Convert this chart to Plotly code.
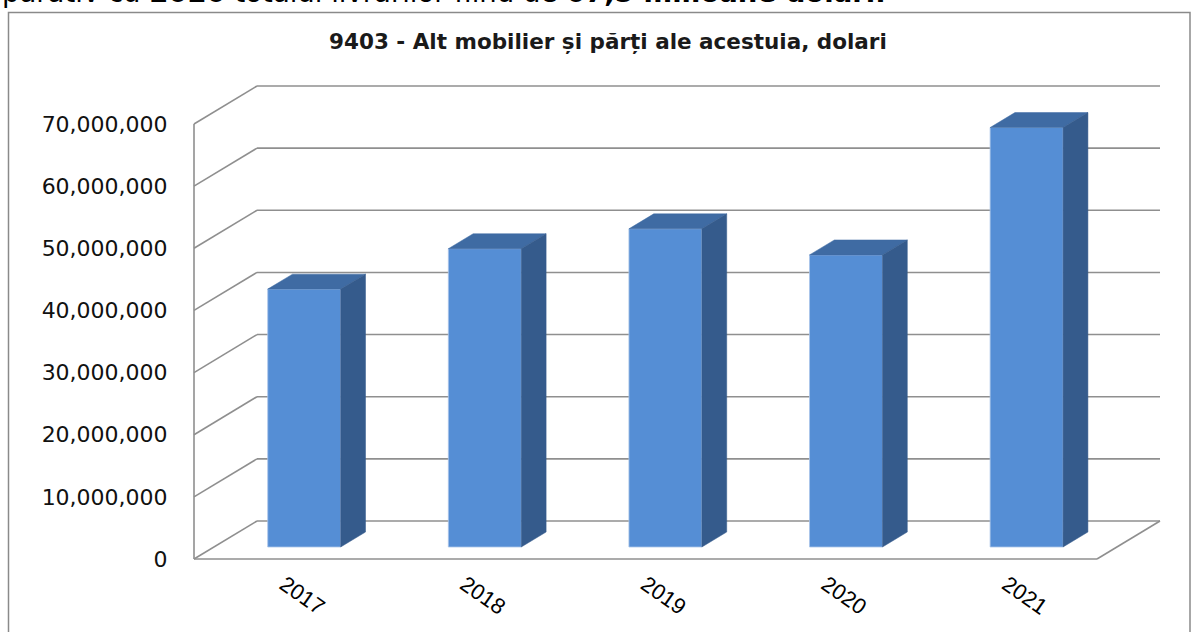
import plotly.graph_objects as go

# ---------------- data ----------------
years = ["2017", "2018", "2019", "2020", "2021"]
values = [41.5e6, 48.0e6, 51.2e6, 47.0e6, 67.5e6]
y_ticks = [0, 10e6, 20e6, 30e6, 40e6, 50e6, 60e6, 70e6]
title_text = "<b>9403 - Alt mobilier și părți ale acestuia, dolari</b>"
top_text = ("parativ cu <b>2020</b> totalul livrărilor fiind de "
            "<b>67,5 milioane dolari.</b>")

# ---------------- styling / 3-D geometry ----------------
W, H = 1198, 632
M_L, M_R, M_T, M_B = 192, 36, 84, 71
DEPTH_X = 0.3488          # floor depth, in category units
DEPTH_Y = 6.115e6         # floor depth, in value units
F_FRONT, F_BACK = 0.316, 0.71   # bar front/back position in depth
BAR_W = 0.404
PAD_X, PAD_Y = 0.01107, 0.3219e6

FRONT_C = "#558ED5"
TOP_C = "#3F6BA3"
SIDE_C = "#355B8C"
GRID_C = "#8F8F8F"

n = len(years)
x_idx = list(range(n))
x_lo, x_hi = -0.5, n - 0.5
y_top = max(y_ticks)

fig = go.Figure()

# walls & floor (shapes below traces)
shapes = []
def seg(x0, y0, x1, y1):
    shapes.append(dict(type="line", xref="x", yref="y", x0=x0, y0=y0, x1=x1, y1=y1,
                       line=dict(color=GRID_C, width=1.6), layer="below"))

for v in y_ticks:
    seg(x_lo, v, x_lo + DEPTH_X, v + DEPTH_Y)                 # side wall
    seg(x_lo + DEPTH_X, v + DEPTH_Y, x_hi + DEPTH_X, v + DEPTH_Y)  # back wall
seg(x_lo, 0, x_lo, y_top)                                      # wall front edge
seg(x_lo, 0, x_hi, 0)                                          # floor front
seg(x_hi, 0, x_hi + DEPTH_X, DEPTH_Y)                          # floor right edge

# bar fronts
cx = [i + F_FRONT * DEPTH_X for i in x_idx]
base = F_FRONT * DEPTH_Y
fig.add_trace(go.Bar(
    x=cx, y=values, base=base, width=BAR_W,
    marker=dict(color=FRONT_C, line=dict(color="#A9C4E8", width=0.8)),
    hoverinfo="skip"))

# bar tops and sides
ddx = (F_BACK - F_FRONT) * DEPTH_X
ddy = (F_BACK - F_FRONT) * DEPTH_Y
for c, v in zip(cx, values):
    x0, x1 = c - BAR_W / 2, c + BAR_W / 2
    t = base + v
    fig.add_trace(go.Scatter(
        x=[x0, x1, x1 + ddx, x0 + ddx, x0],
        y=[t, t, t + ddy, t + ddy, t],
        mode="lines", fill="toself", fillcolor=TOP_C,
        line=dict(color=TOP_C, width=0.5), hoverinfo="skip"))
    fig.add_trace(go.Scatter(
        x=[x1, x1 + ddx, x1 + ddx, x1, x1],
        y=[base, base + ddy, t + ddy, t, base],
        mode="lines", fill="toself", fillcolor=SIDE_C,
        line=dict(color=SIDE_C, width=0.5), hoverinfo="skip"))

# border of chart area (paper coords from pixels)
pw = W - M_L - M_R
ph = H - M_T - M_B
def px(xp):
    return (xp - M_L) / pw
def py(yp):
    return (H - M_B - yp) / ph

shapes.append(dict(type="rect", xref="paper", yref="paper",
                   x0=px(8.5), x1=px(1190), y0=py(650), y1=py(12.5),
                   line=dict(color="#8A8A8A", width=1.5), layer="below"))

fig.update_layout(
    width=W, height=H,
    margin=dict(l=M_L, r=M_R, t=M_T, b=M_B, autoexpand=False),
    paper_bgcolor="white", plot_bgcolor="white",
    showlegend=False,
    shapes=shapes,
    xaxis=dict(range=[x_lo - PAD_X, x_hi + DEPTH_X + PAD_X],
               tickvals=x_idx, ticktext=years, tickangle=35,
               ticks="outside", ticklen=1, tickcolor="rgba(0,0,0,0)",
               tickfont=dict(family="Liberation Sans", size=22, color="#000"),
               showgrid=False, zeroline=False, showline=False, automargin=False,
               fixedrange=True),
    yaxis=dict(range=[-PAD_Y, y_top + DEPTH_Y + PAD_Y],
               tickvals=y_ticks, tickformat=",d",
               ticks="outside", ticklen=19, tickcolor="rgba(0,0,0,0)",
               tickfont=dict(family="DejaVu Sans", size=22, color="#111"),
               showgrid=False, zeroline=False, showline=False, automargin=False,
               fixedrange=True),
    annotations=[
        dict(text=title_text, xref="paper", yref="paper", x=px(608), y=py(42),
             xanchor="center", yanchor="middle", showarrow=False,
             font=dict(family="DejaVu Sans", size=21.5, color="#1a1a1a")),
        dict(text=top_text, xref="paper", yref="paper", x=px(0), y=py(-7.5),
             xanchor="left", yanchor="middle", showarrow=False,
             font=dict(family="DejaVu Sans", size=27.5, color="#000")),
    ],
)

fig.write_html(
    "out.html",
    config={"displayModeBar": False},
    post_script="document.body.style.margin='0px';"
                "document.body.style.overflow='hidden';",
)
